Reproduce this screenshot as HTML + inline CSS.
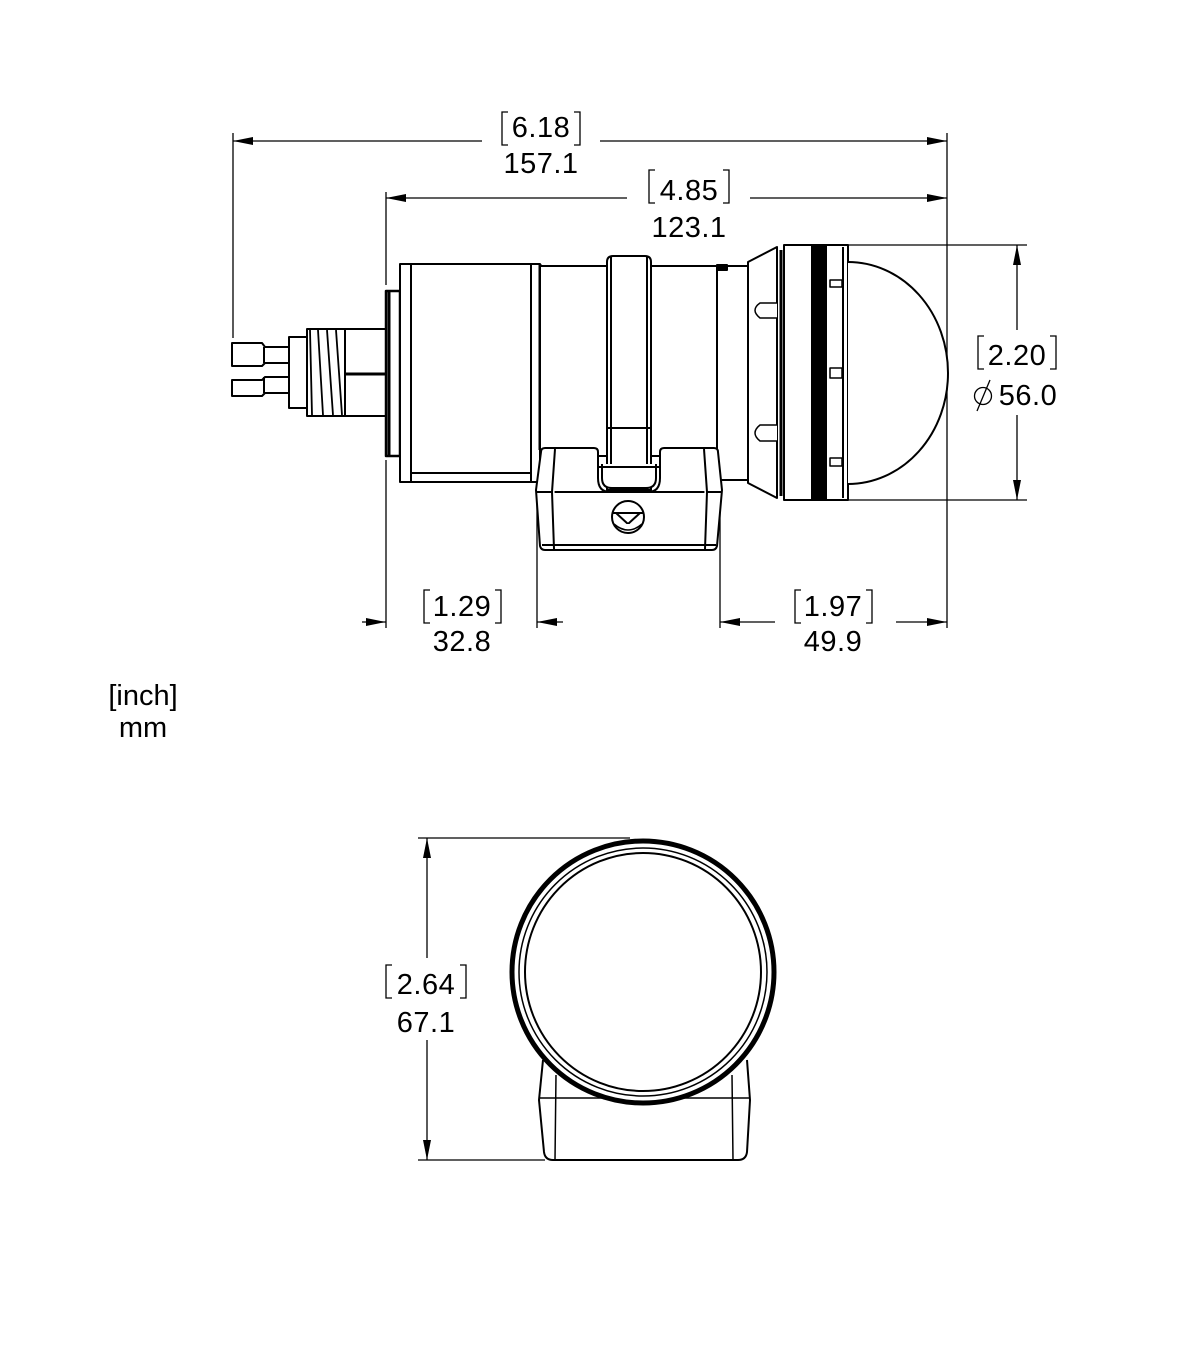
<!DOCTYPE html>
<html><head><meta charset="utf-8"><style>
html,body{margin:0;padding:0;background:#fff;}
svg{display:block;}
text{font-family:"Liberation Sans",Arial,sans-serif;font-size:29px;fill:#000;}
</style></head><body>
<svg width="1200" height="1350" viewBox="0 0 1200 1350" xmlns="http://www.w3.org/2000/svg">
<defs>
<marker id="ar" viewBox="0 0 20 10" refX="20" refY="5" markerWidth="20" markerHeight="10" markerUnits="userSpaceOnUse" orient="auto"><path d="M0,1 L20,5 L0,9 Z" fill="#000"/></marker>
</defs>
<g stroke="#000" stroke-width="1.3" fill="none">
<line x1="233" y1="133" x2="233" y2="338"/>
<line x1="947" y1="133" x2="947" y2="628"/>
<line x1="386" y1="192" x2="386" y2="285"/>
<line x1="386" y1="460" x2="386" y2="628"/>
<line x1="537" y1="470" x2="537" y2="628"/>
<line x1="720" y1="480" x2="720" y2="628"/>
<line x1="848" y1="245" x2="1027" y2="245"/>
<line x1="848" y1="500" x2="1027" y2="500"/>
<line x1="482" y1="141" x2="233" y2="141" marker-end="url(#ar)"/>
<line x1="600" y1="141" x2="947" y2="141" marker-end="url(#ar)"/>
<line x1="627" y1="198" x2="386" y2="198" marker-end="url(#ar)"/>
<line x1="750" y1="198" x2="947" y2="198" marker-end="url(#ar)"/>
<line x1="1017" y1="330" x2="1017" y2="245" marker-end="url(#ar)"/>
<line x1="1017" y1="415" x2="1017" y2="500" marker-end="url(#ar)"/>
<line x1="362" y1="622" x2="386" y2="622" marker-end="url(#ar)"/>
<line x1="563" y1="622" x2="537" y2="622" marker-end="url(#ar)"/>
<line x1="775" y1="622" x2="720" y2="622" marker-end="url(#ar)"/>
<line x1="896" y1="622" x2="947" y2="622" marker-end="url(#ar)"/>
<line x1="418" y1="838" x2="630" y2="838"/>
<line x1="418" y1="1160" x2="545" y2="1160"/>
<line x1="427" y1="958" x2="427" y2="838" marker-end="url(#ar)"/>
<line x1="427" y1="1040" x2="427" y2="1160" marker-end="url(#ar)"/>
<path d="M508,112 H502 V145 H508 M574,112 H580 V145 H574"/>
<path d="M655,170 H649 V203 H655 M723,170 H729 V203 H723"/>
<path d="M984,336 H978 V369 H984 M1050,336 H1056 V369 H1050"/>
<path d="M430,590 H424 V623 H430 M495,590 H501 V623 H495"/>
<path d="M801,590 H795 V623 H801 M866,590 H872 V623 H866"/>
<path d="M392,965 H386 V998 H392 M460,965 H466 V998 H460"/>
</g>
<text x="541" y="137" text-anchor="middle" letter-spacing="0.5">6.18</text>
<text x="541" y="173" text-anchor="middle" letter-spacing="0.5">157.1</text>
<text x="689" y="200" text-anchor="middle" letter-spacing="0.5">4.85</text>
<text x="689" y="237" text-anchor="middle" letter-spacing="0.5">123.1</text>
<text x="1017" y="365" text-anchor="middle" letter-spacing="0.5">2.20</text>
<text x="1028" y="405" text-anchor="middle" letter-spacing="0.5">56.0</text>
<g stroke="#000" stroke-width="1.3" fill="none"><circle cx="983" cy="396" r="8.5"/><line x1="977" y1="411" x2="990" y2="380"/></g>
<text x="462" y="616" text-anchor="middle" letter-spacing="0.5">1.29</text>
<text x="462" y="651" text-anchor="middle" letter-spacing="0.5">32.8</text>
<text x="833" y="616" text-anchor="middle" letter-spacing="0.5">1.97</text>
<text x="833" y="651" text-anchor="middle" letter-spacing="0.5">49.9</text>
<text x="426" y="994" text-anchor="middle" letter-spacing="0.5">2.64</text>
<text x="426" y="1032" text-anchor="middle" letter-spacing="0.5">67.1</text>
<text x="143" y="705" text-anchor="middle" font-size="28">[inch]</text>
<text x="143" y="737" text-anchor="middle" font-size="28">mm</text>

<g stroke="#000" stroke-width="2" fill="#fff" stroke-linejoin="round">
<path d="M232,343 H262 L265,347 H289 V363 H265 L262,366 H232 Z"/>
<path d="M232,380 H262 L265,377 H289 V393 H265 L262,396 H232 Z"/>
<line x1="264" y1="347" x2="264" y2="363"/><line x1="264" y1="377" x2="264" y2="393"/>
<rect x="289" y="337" width="19" height="71"/>
<rect x="307" y="329" width="40" height="87"/>
<path d="M310,330 L312,415 M318,330 L323,415 M327,330 L333,415 M336,330 L342,415" stroke-width="1.8"/>
<rect x="345" y="329" width="42" height="87"/>
<line x1="345" y1="374" x2="387" y2="374" stroke-width="3"/>
<rect x="386" y="291" width="14" height="165" stroke-width="2.5"/>
<line x1="389" y1="291" x2="389" y2="456" stroke-width="3"/>
<rect x="400" y="264" width="140" height="218"/>
<line x1="411" y1="264" x2="411" y2="482"/>
<line x1="531" y1="264" x2="531" y2="482"/>
<line x1="411" y1="473" x2="531" y2="473"/>
<line x1="540" y1="264" x2="540" y2="450" stroke-width="3"/>
<rect x="540" y="266" width="177" height="190"/>
<line x1="717" y1="266" x2="717" y2="480"/>
<rect x="717" y="266" width="31" height="214"/>
<rect x="717" y="265" width="10" height="5" fill="#000"/>
<path d="M607,262 Q607,256 613,256 H645 Q651,256 651,262 V490 H607 Z"/>
<line x1="611" y1="256" x2="611" y2="490"/><line x1="647" y1="256" x2="647" y2="490"/>
<line x1="607" y1="428" x2="651" y2="428"/>
<path d="M541,452 Q541,448 545,448 H594 Q598,448 598,452 V478 Q598,492 610,492 H648 Q660,492 660,478 V452 Q660,448 664,448 H714 Q718,448 718,452 L722,490 L717,546 Q716,550 712,550 H545 Q541,550 540,546 L536,490 Z"/>
<line x1="537" y1="492" x2="721" y2="492"/>
<path d="M555,449 L552,492 L554,549 M704,449 L707,492 L705,549"/>
<line x1="542" y1="545" x2="716" y2="545"/>
<path d="M602,464 V478 Q602,488 612,488 H646 Q656,488 656,478 V464"/>
<line x1="598" y1="467" x2="660" y2="467"/>
<circle cx="628" cy="517" r="16"/>
<path d="M612,513 H644 M616,513 L628,524 L640,513"/>
<path d="M614,524 Q628,536 642,524" stroke-width="1.5"/>
<path d="M748,262 L777,247 V498 L748,483 Z"/>
<line x1="781" y1="250" x2="781" y2="496" stroke-width="3"/>
<path d="M777,303 H760 Q750,310 760,318 H777 M777,425 H760 Q750,433 760,441 H777" stroke-width="1.5"/>
<rect x="784" y="245" width="28" height="255"/>
<rect x="812" y="245" width="14" height="255" fill="#000"/>
<rect x="826" y="245" width="22" height="255"/>
<line x1="843" y1="247" x2="843" y2="498"/>
<path d="M830,280 h12 v7 h-12 Z M830,368 h12 v10 h-12 Z M830,458 h12 v8 h-12 Z" stroke-width="1.5"/>
<path d="M848,262 A100,111 0 0 1 848,484"/>
</g>

<g stroke="#000" fill="none">
<path d="M543,1060 L539,1100 L544,1152 Q545,1160 553,1160 H738 Q746,1160 747,1152 L750,1100 L747,1060" stroke-width="2"/>
<line x1="540" y1="1098" x2="750" y2="1098" stroke-width="1.5"/>
<path d="M556,1075 L555,1160 M732,1075 L733,1160" stroke-width="1.5"/>
<ellipse cx="643" cy="972" rx="131" ry="131" fill="#fff" stroke-width="5"/>
<ellipse cx="643" cy="972" rx="124" ry="124" stroke-width="1.5"/>
<ellipse cx="643" cy="972" rx="118" ry="119" stroke-width="2"/>
</g>
</svg>
</body></html>
